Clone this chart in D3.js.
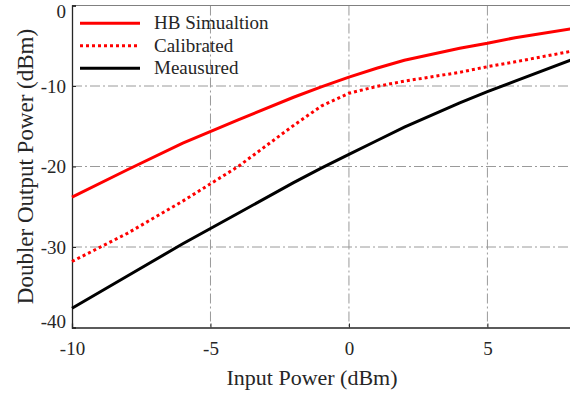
<!DOCTYPE html>
<html>
<head>
<meta charset="utf-8">
<script src="https://cdn.jsdelivr.net/npm/d3@7"></script>
<style>
  body { margin: 0; background: #fff; }
  svg { display: block; font-family: "Liberation Serif", "Times New Roman", serif; }
</style>
</head>
<body>
<svg id="chart" width="570" height="395"></svg>
<script>
// input power (dBm)
var inputPower = [-10, -8, -6, -4, -2, -1, 0, 1, 2, 4, 5, 6, 8];
// doubler output power (dBm)
var hbSim      = [-23.8, -20.4, -17.1, -14.2, -11.4, -10.1, -8.9, -7.8, -6.8, -5.3, -4.7, -4.0, -2.9];
var calibrated = [-31.8, -28.3, -24.3, -20.0, -14.9, -12.5, -10.9, -10.05, -9.4, -8.3, -7.6, -7.0, -5.7];
var measured   = [-37.6, -33.6, -29.6, -25.8, -22.0, -20.2, -18.5, -16.8, -15.1, -12.1, -10.7, -9.4, -6.8];

var xTicks = [-10, -5, 0, 5];
var yTicks = [0, -10, -20, -30, -40];

var series = [
  { name: "HB Simualtion", values: hbSim, color: "#ff0000", dash: null },
  { name: "Calibrated", values: calibrated, color: "#ff0000", dash: "3,3" },
  { name: "Meausured", values: measured, color: "#000000", dash: null }
];

var svg = d3.select("#chart");
// plot box (window.top is reserved, so use own names)
var plotL = 72, plotR = 570.5, plotT = 5.5, plotB = 327.5;

var x = d3.scaleLinear().domain([-10, 8]).range([plotL, plotR]);
var y = d3.scaleLinear().domain([-40, 0]).range([plotB, plotT]);

// grid
svg.append("g").selectAll("line")
  .data(xTicks.filter(function (d) { return d > -10; }))
  .enter().append("line")
  .attr("x1", function (d) { return x(d); }).attr("x2", function (d) { return x(d); })
  .attr("y1", plotT).attr("y2", plotB)
  .attr("stroke", "#9a9a9a").attr("stroke-width", 1)
  .attr("stroke-dasharray", "10,3,2,3");

svg.append("g").selectAll("line")
  .data(yTicks.filter(function (d) { return d > -40 && d < 0; }))
  .enter().append("line")
  .attr("x1", plotL).attr("x2", plotR)
  .attr("y1", function (d) { return y(d); }).attr("y2", function (d) { return y(d); })
  .attr("stroke", "#9a9a9a").attr("stroke-width", 1)
  .attr("stroke-dasharray", "10,3,2,3");

// top border
svg.append("line")
  .attr("x1", plotL).attr("x2", plotR).attr("y1", plotT).attr("y2", plotT)
  .attr("stroke", "#808080").attr("stroke-width", 1.2);

// axes
var xAxis = svg.append("g")
  .attr("transform", "translate(0," + plotB + ")")
  .call(d3.axisBottom(x).tickValues(xTicks).tickSize(-4).tickPadding(10)
    .tickFormat(function (d) { return d; }));
var yAxis = svg.append("g")
  .attr("transform", "translate(" + plotL + ",0)")
  .call(d3.axisLeft(y).tickValues(yTicks).tickSize(-4).tickPadding(6)
    .tickFormat(function (d) { return d; }));

[xAxis, yAxis].forEach(function (a) {
  a.select(".domain").attr("stroke", "#262626").attr("stroke-width", 1.3);
  a.selectAll(".tick line").attr("stroke", "#262626");
  a.selectAll(".tick text")
    .attr("fill", "#262626")
    .style("font-family", "'Liberation Serif', serif")
    .style("font-size", "19px");
});
xAxis.selectAll(".tick text").attr("dy", "0.9em");
// extreme y labels sit slightly inside the axis
yAxis.selectAll(".tick text").attr("dy", function (d) {
  if (d === 0) return "0.65em";
  if (d === -40) return "0.0em";
  return "0.32em";
});

// lines
var line = d3.line()
  .x(function (d, i) { return x(inputPower[i]); })
  .y(function (d) { return y(d); });

svg.append("g").selectAll("path")
  .data(series)
  .enter().append("path")
  .attr("d", function (s) { return line(s.values); })
  .attr("fill", "none")
  .attr("stroke", function (s) { return s.color; })
  .attr("stroke-width", 3)
  .attr("stroke-dasharray", function (s) { return s.dash; });

// legend
var legend = svg.append("g").selectAll("g")
  .data(series)
  .enter().append("g")
  .attr("transform", function (s, i) { return "translate(0," + (23.3 + i * 22.5) + ")"; });
legend.append("line")
  .attr("x1", 80).attr("x2", 140)
  .attr("stroke", function (s) { return s.color; })
  .attr("stroke-width", 3)
  .attr("stroke-dasharray", function (s) { return s.dash; });
legend.append("text")
  .attr("x", 154).attr("y", 6)
  .attr("fill", "#262626")
  .style("font-size", "19px")
  .text(function (s) { return s.name; });

// axis titles
svg.append("text")
  .attr("x", 312).attr("y", 385)
  .attr("text-anchor", "middle")
  .attr("fill", "#262626")
  .style("font-size", "22px")
  .text("Input Power (dBm)");

svg.append("text")
  .attr("transform", "translate(33," + ((plotT + plotB) / 2) + ") rotate(-90)")
  .attr("text-anchor", "middle")
  .attr("fill", "#262626")
  .style("font-size", "23px")
  .text("Doubler Output Power (dBm)");
</script>
</body>
</html>
